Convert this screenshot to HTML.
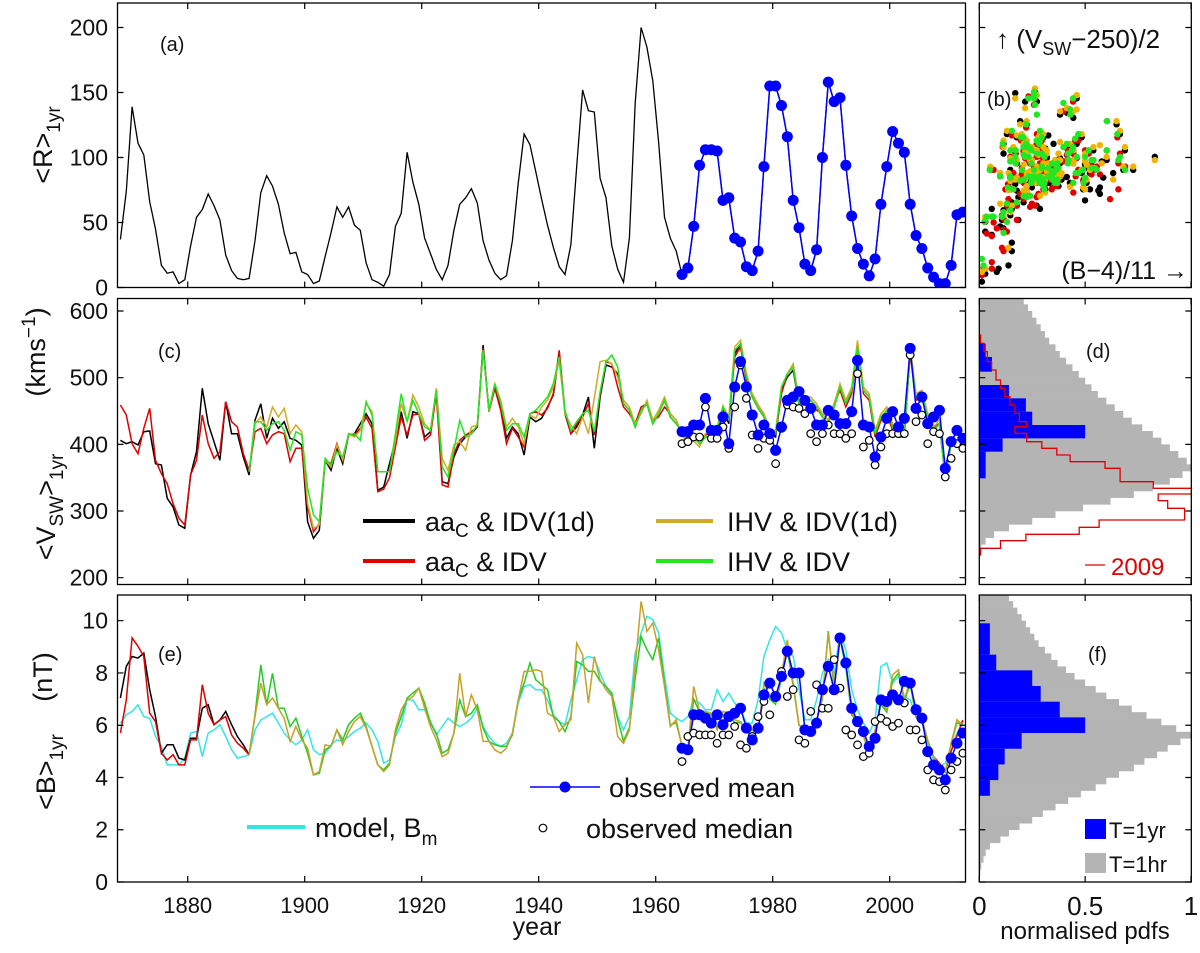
<!DOCTYPE html>
<html><head><meta charset="utf-8"><style>
html,body{margin:0;padding:0;background:#fff}
svg{display:block;font-family:"Liberation Sans",sans-serif}
</style></head><body>
<svg id="chart" width="1200" height="953" viewBox="0 0 1200 953" xmlns="http://www.w3.org/2000/svg">
<defs>
<clipPath id="clipA"><rect x="117.5" y="3" width="848" height="284.5"/></clipPath>
<clipPath id="clipB"><rect x="979.3" y="3" width="212" height="284.5"/></clipPath>
<clipPath id="clipC"><rect x="117.5" y="298.5" width="848" height="286"/></clipPath>
<clipPath id="clipD"><rect x="979.3" y="298.5" width="212" height="286"/></clipPath>
<clipPath id="clipE"><rect x="117.5" y="595" width="848" height="287"/></clipPath>
<clipPath id="clipF"><rect x="979.3" y="595" width="212" height="287"/></clipPath>
</defs>
<g id="layer"></g>
</svg>
<script>
// ---------- data ----------
const yearStart = 1868.5;
const xTickYears = [1880, 1900, 1920, 1940, 1960, 1980, 2000];
const rTicks = [0, 50, 100, 150, 200];
const vTicks = [200, 300, 400, 500, 600];
const bTicks = [0, 2, 4, 6, 8, 10];
const pdfTicks = [0, 0.5, 1];
const pdfTickLabels = ["0", "0.5", "1"];
const N = null;
// sunspot number, 1868.5 .. 2012.5
const sunspotR = [37,74,139,111,102,66,45,17,11,12, 3,6,32,54,60,72,63,52,25,13, 7,6,7,36,73,86,78,64,42,26, 27,12,10,3,5,24,42,62,54,62, 48,44,19,6,4,1,10,47,57,104, 81,64,38,26,14,6,17,44,64,69, 76,65,36,21,11,6,9,36,80,118, 110,89,68,48,31,16,10,33,93,152, 136,135,84,69,32,14,4,38,142,200, 185,159,112,54,38,28,10,15,47,94, 106,106,105,67,69,38,35,16,13,28, 93,155,155,140,116,67,46,18,13,29, 100,158,143,146,94,55,30,18,9,22, 64,93,120,111,104,64,40,30,15,8, 3,3,17,56,58];
const obsStartIndex = 96; // 1964.5
// V_SW (km/s)
const vBlack = [406,401,404,399,419,420,371,369,319,306, 279,274,354,389,484,431,404,376,464,416, 416,381,354,436,461,409,439,424,434,409, 406,399,284,259,271,376,361,394,371,414, 416,431,446,431,331,336,371,406,449,409, 449,446,411,419,481,344,341,381,401,411, 416,426,549,449,486,456,409,426,416,384, 441,434,439,456,474,536,446,416,426,444, 471,394,471,519,516,506,461,451,426,451, 461,431,446,466,441,431,419,404,411,401, 411,411,416,454,431,536,551,501,471,454, 441,416,411,481,501,511,461,466,466,456, 441,431,456,486,461,481,551,481,471,416, 441,451,426,411,411,541,471,476,441,421, 431,351,401,421,411];
const vRed = [459,444,401,386,424,454,376,356,341,311, 289,279,354,376,444,401,379,389,464,434, 426,386,361,419,424,401,414,419,416,374, 394,394,306,269,281,376,371,401,376,416, 414,424,441,424,329,333,350,396,441,414, 444,446,406,414,476,339,336,386,406,414, 419,426,544,449,484,451,401,424,411,396, 446,449,444,454,476,541,449,416,431,441, 461,414,476,524,521,486,456,446,431,456, 461,436,441,456,446,436,414,409,416,406, 414,416,421,451,436,531,546,496,476,459, 446,421,416,476,506,516,466,461,461,451, 446,436,461,481,456,476,546,476,466,411, 436,446,421,416,416,536,466,471,446,426, 431,351,401,421,411];
const vYellow = [N,N,N,N,N,N,N,N,N,N, N,N,N,N,N,N,N,N,N,N, N,N, 359,431,441,426,456,441,454,416,429,419,311,274,279,376,366,399,376,416,411,421,461,449,359,359, 359,406,461,434,474,456,431,421,484,379, 361,399,404,391,426,429,541,449,491,466, 426,439,426,401,444,439,456,466,486,526, 446,429,416,441,416,469,524,526,521,501, 466,456,431,446,466,436,451,471,446,436, 414,400,405,396,416,420,426,458,441,546, 556,506,476,459,446,421,421,486,506,521, 466,471,471,461,446,436,461,491,466,486, 556,486,476,421,446,456,431,416,416,546, 476,481,446,426,436,356,401,421,411];
const vGreen = [N,N,N,N,N,N,N,N,N,N, N,N,N,N,N,N,N,N,N,N, N,N, 359,434,434,421,431,434,421,391,419,414,334,294,284,379,369,389,381,414,416,406,464,444,359,359, 359,416,476,434,466,446,426,421,481,366, 351,391,436,411,416,429,541,451,491,461, 421,431,431,411,446,451,461,471,491,531, 451,421,434,446,451,419,479,524,534,516, 461,451,426,451,461,431,446,466,441,431, 419,404,411,401,411,411,421,456,436,541, 551,501,471,454,441,416,416,486,506,516, 461,466,466,456,441,431,456,486,461,481, 546,481,471,416,441,451,426,411,411,541, 471,476,441,421,431,351,401,421,411];
const vObsMean = [419,419,429,429,469,421,421,441,401,486, 524,486,444,414,429,416,391,426,466,471, 479,466,454,429,429,451,444,431,431,449, 526,429,426,381,411,439,449,426,439,544, 454,471,431,441,451,364,404,421,409];
const vObsMedian = [401,404,411,411,456,409,409,426,394,456, 519,469,414,394,409,406,371,424,459,456, 454,446,416,404,416,429,416,416,409,416, 506,396,406,369,396,416,416,416,416,534, 434,444,401,419,416,351,379,401,394];
// B (nT)
const bBlack = [7.04,8.25,8.63,8.57,8.76,7.36,6.33,4.93,5.25,5.25, 4.74,4.67,5.5,5.5,6.65,6.78,6.02,6.2,6.53,6.02, 5.57,5.25,4.87];
const bRed = [5.7,6.97,9.34,9.02,8.63,6.46,6.14,4.93,4.67,4.87, 4.48,4.48,5.44,5.44,7.55,6.46,6.02,6.2,6.33,5.63, 5.31,5.12,4.87, N,N,N,N,N,N,N, N,N,N,N,N,N,N,N,N,N, N,N,N,N,N,N,N,N,N,N, N,N,N,N,N,N,N,N,N,N, N,N,N,N,N,N,N,N,N,N, N,N,N,N,N,N,N,N,N,N, N,N,N,N,N,N,N,N,N,N, N,N,N,N,N,N,N,N,N,N, N,N,N,N,N,N,N,N,N,N, N,N,N,N,N,N,N,N,N,N, N,N,N,N,N,N,N,N,N,N, N,N,N,N,N,N,N,N,N, 4.8,4.55,4.23,5.0,5.6,6.2];
const bModel = [6.08,6.4,6.53,6.78,6.33,6.27,5.57,5.19,4.48,4.48, 4.48,4.74,5.7,5.76,4.8,5.7,5.82,6.02,5.57,5.06, 4.74,4.8,4.87,5.82,6.2,6.33,6.46,6.08,5.7,5.44, 5.25,5.44,5.82,5.06,4.87,4.93,5.25,5.44,5.38,5.57, 5.76,5.89,6.08,5.82,5.38,4.55, 4.67,5.57,6.02,6.97,6.97,6.59,6.59,6.14,5.63,5.95, 6.27,6.08,5.95,6.08,6.27,6.65,5.95,5.57,5.31,5.19, 5.31,5.7,6.85,7.48,7.55,7.36,7.36,6.97,6.4,6.14, 6.02,6.97,7.74,8.51,8.63,8.57,7.99,7.48,7.16,6.33, 5.82,6.33,8.76,9.53,10.17,10.04,9.53,7.87,6.46,6.27, 6.14,6.33,6.97,6.85,6.59,6.59,7.36,6.91,7.23,6.85, 6.59,6.08,6.08,6.97,8.63,9.27,9.78,9.53,8.89,8.63, 7.36,6.21,6.21,6.97,7.99,8.51,7.99,9.53,8.89,7.36, 6.59,6.08,5.7,6.21,8.25,8.38,7.61,7.87,7.1,6.97, 6.33,6.08,5.31,4.67,4.42,4.55,5.19,5.7,6.08];
const bYellow = [N,N,N,N,N,N,N,N,N,N, N,N,N,N,N,N,N,N,N,N, N,N, 4.87,6.33,7.61,6.78,7.04,6.65,6.27,5.38,5.95,5.44,5.12,4.1,4.23,5.25,5.19,5.82,5.25,5.76,6.14,6.33,5.89,5.19,4.48,4.23, 4.48,5.82,6.59,6.97,7.1,7.42,6.65,5.95,5.44,4.8, 4.93,5.7,7.99,6.33,7.16,6.59,5.38,5.38,5.06,4.93, 5.12,5.7,6.97,8.06,8.06,8.12,8.06,6.46,6.33,5.76, 6.02,6.21,9.14,8.7,6.85,8.63,7.74,7.36,7.1,5.57, 5.31,5.82,8.25,10.74,9.59,9.91,8.89,7.48,5.95,6.21, 5.19,5.12,7.48,6.53,6.53,6.46,5.82,6.53,6.46,6.21, 6.14,5.82,5.82,5.76,7.61,7.1,6.91,7.93,9.27,7.61, 6.02,5.82,5.7,6.21,7.1,9.53,7.61,9.4,8.38,6.46, 6.14,5.63,4.93,5.82,6.91,6.59,7.93,8.12,6.97,7.74, 6.33,6.27,5.44,4.8,4.42,4.23,5.31,6.21,6.0];
const bGreen = [N,N,N,N,N,N,N,N,N,N, N,N,N,N,N,N,N,N,N,N, N,N, 4.87,6.4,8.31,6.78,7.99,6.65,6.65,5.95,6.27,5.57,4.93,4.1,4.16,5.06,5.19,5.82,5.44,6.02,6.27,6.46,5.95,5.19,4.48,4.29, 4.55,5.7,6.33,7.04,7.23,7.42,6.85,6.08,5.7,4.93, 5.06,5.7,6.97,6.33,6.46,6.78,5.89,5.38,5.25,5.19, 5.19,5.63,6.97,7.61,8.38,7.74,7.55,7.36,6.33,6.14, 5.76,6.33,8.44,8.31,8.06,8.06,7.68,7.48,7.23,6.21, 5.4,5.9,7.8,9.4,8.89,8.51,9.34,7.6,6.0,6.1, 5.2,5.1,7.0,6.5,6.5,6.4,5.9,6.4,6.4,6.1, 6.1,5.8,5.8,5.7,7.4,7.0,6.8,7.8,8.9,7.5, 6.0,5.8,5.7,6.2,7.0,9.6,7.4,9.3,8.2,6.4, 6.1,5.6,4.9,5.7,6.8,6.5,7.7,8.0,6.9,7.6, 6.3,6.2,5.4,4.8,4.4,4.2,5.3,6.1,6.0];
const bObsMean = [5.12,5.06,6.4,6.4,6.27,6.08,6.4,6.02,6.33,6.46, 6.65,5.89,5.44,5.89,7.16,7.61,7.1,7.87,8.83,8.0, 8.0,5.82,5.76,6.08,7.36,8.25,7.36,9.34,8.38,6.65, 6.14,5.76,5.19,5.5,6.97,6.91,7.16,6.97,7.68,7.61, 6.59,6.27,4.99,4.48,4.29,3.91,4.74,5.31,5.7];
const bObsMedian = [4.61,5.57,5.7,5.63,5.63,5.63,5.31,5.63,5.63,5.95, 5.25,5.12,5.57,6.33,6.91,6.4,7.1,8.06,7.1,7.36, 5.44,5.31,6.53,7.55,6.65,6.65,8.51,7.42,5.82,5.63, 5.25,4.8,4.93,6.14,6.27,6.14,5.95,6.08,6.85,5.82, 5.82,5.44,4.29,3.91,3.84,3.52,4.29,4.61,4.93];
// pdfs
const vHourCenters = [245,255,265,275,285,295,305,315,325,335,345,355,365,375,385,395,405,415,425,435,445,455,465,475,485,495,505,515,525,535,545,555,565,575,585,595,605,615];
const vHourPdf = [0.01,0.03,0.07,0.14,0.25,0.36,0.49,0.62,0.73,0.82,0.9,0.96,1.0,0.98,0.94,0.9,0.86,0.82,0.77,0.72,0.68,0.64,0.6,0.56,0.53,0.5,0.47,0.44,0.41,0.38,0.36,0.33,0.31,0.29,0.27,0.25,0.23,0.21];
const vYearEdges = [349,369,389,409,429,449,469,489,509,531,551];
const vYearPdf = [0.03,0.03,0.11,0.5,0.25,0.22,0.14,0,0.06,0.03];
const v2009Edges = [564,551.5,539,524,511.5,496.5,484,471.5,459,446.5,434,426.5,416.5,404,394,384,374,364,344,334,325.5,315.5,304,286.5,275.5,265,255.5,244,234];
const v2009Pdf = [0.006,0.022,0.038,0.058,0.079,0.1,0.121,0.145,0.168,0.189,0.224,0.168,0.224,0.295,0.366,0.429,0.594,0.665,0.822,1.02,0.845,0.89,0.97,0.566,0.472,0.22,0.1,0.006];
const bHourStart = 0, bHourWidth = 0.25;
const bHourPdf = [0,0.005,0.01,0.02,0.03,0.05,0.1,0.14,0.19,0.25,0.3,0.36,0.42,0.48,0.55,0.6,0.66,0.73,0.78,0.84,0.89,0.95,1.0,0.93,0.86,0.79,0.72,0.66,0.6,0.55,0.5,0.45,0.41,0.37,0.34,0.31,0.28,0.26,0.24,0.22,0.2,0.18,0.16,0.14];
const bYearEdges = [3.3,3.9,4.5,5.1,5.7,6.3,6.9,7.5,8.1,8.7,9.3,9.9];
const bYearPdf = [0.05,0.09,0.12,0.2,0.5,0.38,0.29,0.25,0.08,0.05,0.05];

// ---------- scales ----------
const NS = "http://www.w3.org/2000/svg";
const layer = document.getElementById('layer');
function X(yr){ return 117.5 + (yr - 1868) * 5.85; }
function yR(v){ return 287.5 - v * 1.3; }
function yV(v){ return 311 + (600 - v) * 0.6667; }
function yB(v){ return 882 - v * 26.13; }
function P(v){ return 979.3 + v * 211.7; }
function SX(b){ return 979.3 + ((b - 4) / 11) / 0.74 * 212; }
function mk(tag, parent){ const e = document.createElementNS(NS, tag); (parent || layer).appendChild(e); return e; }
function setA(e, o){ for (const k in o) e.setAttribute(k, o[k]); return e; }
function linePath(vals, start, yf){
  let d = "", pen = false;
  vals.forEach((v, i) => {
    if (v === null || v === undefined){ pen = false; return; }
    d += (pen ? "L" : "M") + X(start + i).toFixed(1) + "," + yf(v).toFixed(1);
    pen = true;
  });
  return d;
}
function group(clip){ const g = mk('g'); if (clip) g.setAttribute('clip-path', 'url(#' + clip + ')'); return g; }

const panels = [
  {n:'panel-a', x:117.5, y:3, w:848, h:284.5, yt:rTicks, yf:yR, xt:'year'},
  {n:'panel-b', x:979.3, y:3, w:212, h:284.5, yt:rTicks, yf:yR, xt:'pdf'},
  {n:'panel-c', x:117.5, y:298.5, w:848, h:286, yt:vTicks, yf:yV, xt:'year'},
  {n:'panel-d', x:979.3, y:298.5, w:212, h:286, yt:vTicks, yf:yV, xt:'pdf'},
  {n:'panel-e', x:117.5, y:595, w:848, h:287, yt:bTicks, yf:yB, xt:'year'},
  {n:'panel-f', x:979.3, y:595, w:212, h:287, yt:bTicks, yf:yB, xt:'pdf'}
];

// ---------- panel (a) ----------
{
  const g = group('clipA');
  const p = mk('path', g);
  setA(p, {d: linePath(sunspotR, yearStart, yR), fill:'none', stroke:'#000', 'stroke-width':1.3});
  
  
  const obs = sunspotR.slice(obsStartIndex);
  const bl = mk('path', g);
  setA(bl, {d: linePath(obs, yearStart + obsStartIndex, yR), fill:'none', stroke:'#0000ff', 'stroke-width':1.5});
  
  
  obs.forEach((v, i) => {
    const c = mk('circle', g);
    setA(c, {cx: X(yearStart + obsStartIndex + i), cy: yR(v), r: 5.5, fill:'#0000ff'});
    
    
  });
}

// ---------- panel (b) scatter ----------
{
  const g = group('clipB');
  const sets = [
    {v:vBlack, b:bBlack, fb:bYellow, c:'#000000', n:'scatter-aac-idv1d'},
    {v:vRed, b:bRed, fb:bGreen, c:'#e00000', n:'scatter-aac-idv'},
    {v:vYellow, b:bYellow, fb:bYellow, c:'#f0b400', n:'scatter-ihv-idv1d'},
    {v:vGreen, b:bGreen, fb:bGreen, c:'#22e622', n:'scatter-ihv-idv'}
  ];
  sets.forEach(s => {
    s.v.forEach((v, i) => {
      let b = (s.b[i] !== undefined && s.b[i] !== null) ? s.b[i] : s.fb[i];
      if (v === null || b === null || b === undefined) return;
      const c = mk('circle', g);
      setA(c, {cx: SX(b), cy: yR((v - 250) / 2), r: 3.2, fill: s.c});
      
      
    });
  });
}

// ---------- panel (c) ----------
{
  const g = group('clipC');
  const series = [[vBlack,'#000','v-aac-idv1d-line'],[vRed,'#e00000','v-aac-idv-line'],[vYellow,'#d2aa28','v-ihv-idv1d-line'],[vGreen,'#22e622','v-ihv-idv-line']];
  series.forEach(s => {
    const p = mk('path', g);
    setA(p, {d: linePath(s[0], yearStart, yV), fill:'none', stroke:s[1], 'stroke-width':1.5});
    
    
  });
  const st = yearStart + obsStartIndex;
  const bl = mk('path', g);
  setA(bl, {d: linePath(vObsMean, st, yV), fill:'none', stroke:'#0000ff', 'stroke-width':1.5});
  
  
  vObsMedian.forEach((v, i) => {
    const c = mk('circle', g);
    setA(c, {cx: X(st + i), cy: yV(v), r: 3.8, fill:'#fff', stroke:'#000', 'stroke-width':1.2});
    
    
  });
  vObsMean.forEach((v, i) => {
    const c = mk('circle', g);
    setA(c, {cx: X(st + i), cy: yV(v), r: 5.5, fill:'#0000ff'});
    
    
  });
}

// ---------- panel (d) ----------
{
  const g = group('clipD');
  vHourCenters.forEach((v, i) => {
    const r = mk('rect', g);
    setA(r, {x: P(0), y: yV(v + 5), width: P(vHourPdf[i]) - P(0), height: yV(v - 5) - yV(v + 5) + 0.3, fill:'#b4b4b4'});
    
    
  });
  vYearPdf.forEach((v, i) => {
    const r = mk('rect', g);
    setA(r, {x: P(0), y: yV(vYearEdges[i + 1]), width: P(v) - P(0), height: yV(vYearEdges[i]) - yV(vYearEdges[i + 1]), fill:'#0000ff'});
    
    
  });
  let d = "M" + P(0) + "," + yV(v2009Edges[0]);
  v2009Pdf.forEach((v, i) => {
    d += "L" + P(v).toFixed(1) + "," + yV(v2009Edges[i]).toFixed(1) + "L" + P(v).toFixed(1) + "," + yV(v2009Edges[i + 1]).toFixed(1);
  });
  d += "L" + P(0) + "," + yV(v2009Edges[v2009Edges.length - 1]);
  const p = mk('path', g);
  setA(p, {d: d, fill:'none', stroke:'#e00000', 'stroke-width':1.3});
  
  
}

// ---------- panel (e) ----------
{
  const g = group('clipE');
  const series = [[bModel,'#33e6e6','b-model-line'],[bBlack,'#000','b-aac-idv1d-line'],[bRed,'#e00000','b-aac-idv-line'],[bGreen,'#22cc22','b-ihv-idv-line'],[bYellow,'#c8a028','b-ihv-idv1d-line']];
  series.forEach(s => {
    const p = mk('path', g);
    setA(p, {d: linePath(s[0], yearStart, yB), fill:'none', stroke:s[1], 'stroke-width':1.5});
    
    
  });
  const st = yearStart + obsStartIndex;
  const bl = mk('path', g);
  setA(bl, {d: linePath(bObsMean, st, yB), fill:'none', stroke:'#0000ff', 'stroke-width':1.5});
  
  
  bObsMedian.forEach((v, i) => {
    const c = mk('circle', g);
    setA(c, {cx: X(st + i), cy: yB(v), r: 3.8, fill:'#fff', stroke:'#000', 'stroke-width':1.2});
    
    
  });
  bObsMean.forEach((v, i) => {
    const c = mk('circle', g);
    setA(c, {cx: X(st + i), cy: yB(v), r: 5.5, fill:'#0000ff'});
    
    
  });
}

// ---------- panel (f) ----------
{
  const g = group('clipF');
  bHourPdf.forEach((v, i) => {
    const lo = bHourStart + i * bHourWidth;
    const r = mk('rect', g);
    setA(r, {x: P(0), y: yB(lo + bHourWidth), width: P(v) - P(0), height: yB(lo) - yB(lo + bHourWidth) + 0.3, fill:'#b4b4b4'});
    
    
  });
  bYearPdf.forEach((v, i) => {
    const r = mk('rect', g);
    setA(r, {x: P(0), y: yB(bYearEdges[i + 1]), width: P(v) - P(0), height: yB(bYearEdges[i]) - yB(bYearEdges[i + 1]), fill:'#0000ff'});
    
    
  });
}

// ---------- frames, ticks, tick labels ----------
panels.forEach(pn => {
  const f = mk('rect');
  setA(f, {x: pn.x, y: pn.y, width: pn.w, height: pn.h, fill:'none', stroke:'#000', 'stroke-width':1.3});
  
  
  let d = "";
  pn.yt.forEach(t => { const y = pn.yf(t); d += `M${pn.x},${y}h6M${pn.x + pn.w},${y}h-6`; });
  if (pn.xt === 'year') xTickYears.forEach(t => { const x = X(t); d += `M${x},${pn.y + pn.h}v-6M${x},${pn.y}v6`; });
  else pdfTicks.forEach(t => { const x = P(t); d += `M${x},${pn.y + pn.h}v-6M${x},${pn.y}v6`; });
  const tk = mk('path');
  setA(tk, {d: d, stroke:'#000', 'stroke-width':1.2, fill:'none'});
  
  
  if (pn.x < 200){
    pn.yt.forEach(t => {
      const tx = mk('text');
      setA(tx, {x: 108, y: pn.yf(t) + 8, 'text-anchor':'end', 'font-size':23, fill:'#111'});
      tx.textContent = t;
      
      
    });
  }
});
xTickYears.forEach(t => {
  const tx = mk('text');
  setA(tx, {x: X(t), y: 913, 'text-anchor':'middle', 'font-size':22, fill:'#111'});
  tx.textContent = t;
  
  
});
pdfTicks.forEach((t, i) => {
  const tx = mk('text');
  setA(tx, {x: P(t), y: 915, 'text-anchor':'middle', 'font-size':26, fill:'#111'});
  tx.textContent = pdfTickLabels[i];
  
  
});
</script>
<script>
const svgRoot = document.getElementById('chart');
svgRoot.insertAdjacentHTML('beforeend', `
<g font-family="Liberation Sans, sans-serif" fill="#111">
  <text x="537" y="935" font-size="25" text-anchor="middle">year</text>
  <text x="1085" y="939" font-size="24" text-anchor="middle">normalised pdfs</text>
  <text transform="translate(52,145) rotate(-90)" font-size="27" text-anchor="middle">&lt;R&gt;<tspan font-size="19" dy="8">1yr</tspan></text>
  <text transform="translate(45,352) rotate(-90)" font-size="27" text-anchor="middle">(kms<tspan font-size="19" dy="-10">−1</tspan><tspan dy="10">)</tspan></text>
  <text transform="translate(55,507) rotate(-90)" font-size="27" text-anchor="middle">&lt;V<tspan font-size="19" dy="8">SW</tspan><tspan dy="-8">&gt;</tspan><tspan font-size="19" dy="8">1yr</tspan></text>
  <text transform="translate(52,677) rotate(-90)" font-size="27" text-anchor="middle">(nT)</text>
  <text transform="translate(55,772) rotate(-90)" font-size="27" text-anchor="middle">&lt;B&gt;<tspan font-size="19" dy="8">1yr</tspan></text>
  <text x="160" y="51" font-size="20">(a)</text>
  <text x="987" y="106" font-size="20">(b)</text>
  <text x="158" y="358" font-size="20">(c)</text>
  <text x="1086" y="358" font-size="20">(d)</text>
  <text x="158" y="661" font-size="20">(e)</text>
  <text x="1088" y="661" font-size="20">(f)</text>
  <text x="996" y="48" font-size="26">↑ (V<tspan font-size="18" dy="7">SW</tspan><tspan dy="-7">−250)/2</tspan></text>
  <text x="1188" y="279" font-size="25" text-anchor="end">(B−4)/11 →</text>
  <line x1="363" y1="521" x2="415" y2="521" stroke="#000" stroke-width="4"/>
  <text x="425" y="531" font-size="27">aa<tspan font-size="19" dy="6">C</tspan><tspan dy="-6"> &amp; IDV(1d)</tspan></text>
  <line x1="363" y1="561" x2="415" y2="561" stroke="#e00000" stroke-width="4"/>
  <text x="425" y="571" font-size="27">aa<tspan font-size="19" dy="6">C</tspan><tspan dy="-6"> &amp; IDV</tspan></text>
  <line x1="656" y1="521" x2="713" y2="521" stroke="#d2aa28" stroke-width="4"/>
  <text x="727" y="531" font-size="27">IHV &amp; IDV(1d)</text>
  <line x1="656" y1="561" x2="713" y2="561" stroke="#22e622" stroke-width="4"/>
  <text x="727" y="571" font-size="27">IHV &amp; IDV</text>
  <line x1="247" y1="827" x2="305" y2="827" stroke="#33e6e6" stroke-width="4"/>
  <text x="315" y="837" font-size="27">model, B<tspan font-size="19" dy="8">m</tspan></text>
  <line x1="530" y1="787" x2="600" y2="787" stroke="#0000ff" stroke-width="1.5"/>
  <circle cx="565" cy="787" r="5.5" fill="#0000ff"/>
  <text x="609" y="797" font-size="27">observed mean</text>
  <circle cx="543" cy="828" r="3.8" fill="#fff" stroke="#000" stroke-width="1.2"/>
  <text x="586" y="838" font-size="27">observed median</text>
  <line x1="1085" y1="565" x2="1105" y2="565" stroke="#e00000" stroke-width="1.3"/>
  <text x="1111" y="575" font-size="24" fill="#e00000">2009</text>
  <rect x="1085" y="819" width="21" height="20" fill="#0000ff"/>
  <text x="1109" y="838" font-size="22">T=1yr</text>
  <rect x="1085" y="853" width="21" height="20" fill="#b4b4b4"/>
  <text x="1109" y="872" font-size="22">T=1hr</text>
</g>`);
</script>
</body></html>
